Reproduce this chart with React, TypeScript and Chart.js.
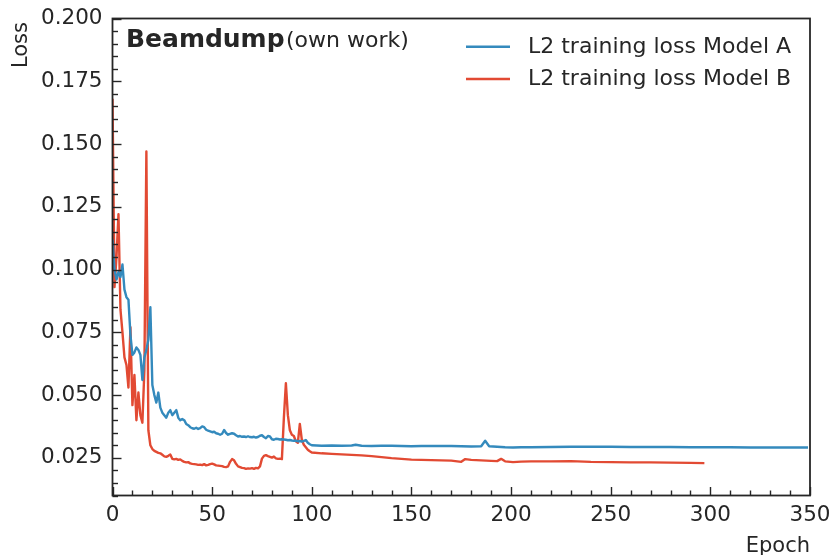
import { useEffect, useRef } from 'react';
import { Chart, registerables } from 'chart.js';

Chart.register(...registerables);

// Loss per epoch for epochs 0..100 (index = epoch)
const lossAEarly = [
  0.112, 0.1, 0.096, 0.099, 0.097, 0.102, 0.092, 0.089, 0.088, 0.074,
  0.066, 0.067, 0.069, 0.068, 0.066, 0.056, 0.065, 0.068, 0.072, 0.085,
  0.054, 0.05, 0.047, 0.051, 0.045, 0.043, 0.042, 0.041, 0.043, 0.044,
  0.042, 0.043, 0.044, 0.041, 0.04, 0.0405, 0.04, 0.0385, 0.038, 0.0372,
  0.0368, 0.0366, 0.037, 0.0365, 0.0368, 0.0375, 0.0372, 0.0362, 0.0358, 0.0355,
  0.0352, 0.0354, 0.0348, 0.0346, 0.0342, 0.0346, 0.0361, 0.0349, 0.0342, 0.0345,
  0.0348, 0.0346, 0.034, 0.0335, 0.0337, 0.0334, 0.0335, 0.0333, 0.0336, 0.0333,
  0.0332, 0.0334, 0.0331, 0.0333, 0.0338, 0.034, 0.0333, 0.0328, 0.0337, 0.0335,
  0.0324, 0.0322, 0.0326, 0.0325, 0.0323, 0.0324, 0.0323, 0.0322, 0.032, 0.0321,
  0.0319, 0.0318, 0.0319, 0.0316, 0.0317, 0.0315, 0.0318, 0.0321, 0.031, 0.0304,
  0.03,
];
const epochsALate = [
  105, 110, 115, 120, 122, 125, 130, 135, 140, 145, 150, 155, 160, 165, 170, 175, 180, 185,
  187, 189, 193, 197, 201, 205, 210, 220, 230, 240, 250, 260, 270, 280, 290, 300, 310, 320,
  330, 340, 349,
];
const lossALate = [
  0.0298, 0.0299, 0.0298, 0.0299, 0.0302, 0.0298, 0.0297, 0.0298, 0.0298, 0.0297, 0.0296,
  0.0297, 0.0297, 0.0297, 0.0297, 0.0296, 0.0295, 0.0296, 0.0318, 0.0296, 0.0294, 0.0292,
  0.0291, 0.0292, 0.0292, 0.0293, 0.0294, 0.0294, 0.0294, 0.0293, 0.0293, 0.0293, 0.0292,
  0.0292, 0.0292, 0.0291, 0.0291, 0.0291, 0.0291,
];

const lossBEarly = [
  0.168, 0.093, 0.105, 0.122, 0.084, 0.075, 0.065, 0.062, 0.053, 0.077,
  0.046, 0.058, 0.04, 0.051, 0.042, 0.039, 0.06, 0.147, 0.036, 0.03,
  0.0285, 0.0278, 0.0274, 0.027, 0.0268, 0.0262, 0.0256, 0.0254, 0.0258, 0.0263,
  0.0246, 0.0244, 0.0246, 0.0242, 0.0244, 0.0238, 0.0234, 0.0232, 0.0233, 0.0228,
  0.0226, 0.0225, 0.0224, 0.0222, 0.0223, 0.0221, 0.0225, 0.022, 0.0222, 0.0225,
  0.0227, 0.0224, 0.022, 0.0219, 0.0218, 0.0217, 0.0214, 0.0213, 0.0216, 0.0234,
  0.0245, 0.024, 0.0226, 0.0216, 0.0213, 0.021, 0.0209, 0.0206, 0.0208, 0.0207,
  0.0209, 0.0206, 0.021, 0.0208, 0.0216, 0.0247, 0.0258, 0.0261, 0.0257, 0.0254,
  0.0251, 0.0255, 0.0248, 0.0246, 0.0247, 0.0245, 0.041, 0.0547, 0.042, 0.036,
  0.0342, 0.0337, 0.0316, 0.031, 0.0385, 0.0322, 0.0302, 0.0292, 0.0282, 0.0276,
  0.0271,
];
const epochsBLate = [
  105, 110, 115, 120, 125, 130, 135, 140, 145, 150, 155, 160, 165, 170, 175, 177, 180, 185,
  190, 193, 195, 197, 201, 205, 210, 220, 230, 240, 250, 260, 270, 280, 290, 297,
];
const lossBLate = [
  0.0268, 0.0266, 0.0264, 0.0262, 0.026, 0.0257, 0.0253, 0.0249, 0.0246, 0.0243, 0.0242,
  0.0241, 0.024, 0.0239, 0.0234, 0.0245, 0.0242, 0.024, 0.0238, 0.0237, 0.0246, 0.0236,
  0.0233, 0.0235, 0.0236, 0.0236, 0.0237, 0.0234, 0.0233, 0.0232, 0.0232, 0.0231, 0.023,
  0.0229,
];

const seriesLabels = ['L2 training loss Model A', 'L2 training loss Model B'];
const yTickValues = [0.025, 0.05, 0.075, 0.1, 0.125, 0.15, 0.175, 0.2];
const xTickValues = [0, 50, 100, 150, 200, 250, 300, 350];

const INK = '#262626';
const BLUE = '#348ABD';
const RED = '#E24A33';
const FONT = "'DejaVu Sans', sans-serif";

const toPoints = (early: number[], lateX: number[], lateY: number[]) => [
  ...early.map((v, i) => ({ x: i, y: v })),
  ...lateX.map((x, i) => ({ x, y: lateY[i] })),
];

const decorPlugin = {
  id: 'decor',
  afterDatasetsDraw(chart: any) {
    const { ctx, chartArea, scales } = chart;
    const { left, right, top, bottom } = chartArea;
    const x = scales.x;
    const y = scales.y;
    ctx.save();
    ctx.strokeStyle = INK;
    ctx.lineCap = 'butt';

    // inward tick marks on the left and bottom spines
    ctx.lineWidth = 1.4;
    for (let k = 0; k <= 38; k++) {
      const v = 0.01 + k * 0.005;
      if (v > 0.2001) break;
      const py = Math.round(y.getPixelForValue(v)) + 0.5;
      const major = yTickValues.some((t) => Math.abs(t - v) < 1e-6);
      ctx.beginPath();
      ctx.moveTo(left, py);
      ctx.lineTo(left + (major ? 9 : 5.5), py);
      ctx.stroke();
    }
    for (let v = 0; v <= 350; v += 10) {
      const px = Math.round(x.getPixelForValue(v)) + 0.5;
      const major = xTickValues.includes(v);
      ctx.beginPath();
      ctx.moveTo(px, bottom);
      ctx.lineTo(px, bottom - (major ? 8.5 : 5));
      ctx.stroke();
    }

    // frame
    ctx.lineWidth = 1.8;
    ctx.strokeRect(left, top, right - left, bottom - top);

    // axis titles
    ctx.fillStyle = INK;
    ctx.font = `21px ${FONT}`;
    ctx.textAlign = 'right';
    ctx.textBaseline = 'alphabetic';
    ctx.fillText('Epoch', right, 551.5);
    ctx.save();
    ctx.translate(26.5, top + 3.5);
    ctx.rotate(-Math.PI / 2);
    ctx.fillText('Loss', 0, 0);
    ctx.restore();

    // header text
    ctx.textAlign = 'left';
    ctx.font = `bold 25px ${FONT}`;
    ctx.fillText('Beamdump', 126, 46.5);
    ctx.font = `22px ${FONT}`;
    ctx.fillText('(own work)', 286, 46.5);

    // legend
    const rows = [46.7, 79];
    chart.data.datasets.forEach((ds: any, i: number) => {
      const ly = rows[i];
      ctx.strokeStyle = ds.borderColor;
      ctx.lineWidth = 2.4;
      ctx.beginPath();
      ctx.moveTo(466, ly);
      ctx.lineTo(510, ly);
      ctx.stroke();
      ctx.fillStyle = INK;
      ctx.textBaseline = 'middle';
      ctx.fillText(ds.label, 528, ly + 0.5);
    });
    ctx.restore();
  },
};

export default function App() {
  const ref = useRef<HTMLCanvasElement>(null);

  useEffect(() => {
    if (!ref.current) return;
    Chart.defaults.font.family = FONT;
    Chart.defaults.color = INK;
    const chart = new Chart(ref.current, {
      type: 'line',
      data: {
        datasets: [
          {
            label: seriesLabels[0],
            data: toPoints(lossAEarly, epochsALate, lossALate),
            borderColor: BLUE,
            backgroundColor: BLUE,
            borderWidth: 2.4,
            pointRadius: 0,
            borderJoinStyle: 'round',
            tension: 0,
          },
          {
            label: seriesLabels[1],
            data: toPoints(lossBEarly, epochsBLate, lossBLate),
            borderColor: RED,
            backgroundColor: RED,
            borderWidth: 2.4,
            pointRadius: 0,
            borderJoinStyle: 'round',
            tension: 0,
          },
        ],
      },
      options: {
        responsive: false,
        animation: false,
        layout: { padding: { top: 18.5, right: 21, left: 0, bottom: 0 } },
        plugins: {
          legend: { display: false },
          tooltip: { enabled: false },
        },
        scales: {
          x: {
            type: 'linear',
            min: 0,
            max: 350,
            grid: { display: false, drawTicks: false },
            border: { display: false },
            afterBuildTicks: (scale: any) => {
              scale.ticks = xTickValues.map((v) => ({ value: v }));
            },
            afterFit: (scale: any) => {
              scale.height = 59.5;
              scale.paddingLeft = 0;
              scale.paddingRight = 0;
            },
            ticks: {
              padding: 7,
              maxRotation: 0,
              autoSkip: false,
              color: INK,
              font: { size: 21.5, family: FONT },
              callback: (v: any) => String(v),
            },
          },
          y: {
            type: 'linear',
            min: 0.01,
            max: 0.2,
            grid: { display: false, drawTicks: false },
            border: { display: false },
            afterBuildTicks: (scale: any) => {
              scale.ticks = yTickValues.map((v) => ({ value: v }));
            },
            afterFit: (scale: any) => {
              scale.width = 112.5;
              scale.paddingTop = 0;
              scale.paddingBottom = 0;
            },
            ticks: {
              padding: 10,
              autoSkip: false,
              color: INK,
              font: { size: 21.5, family: FONT },
              callback: (v: any) => Number(v).toFixed(3),
            },
          },
        },
      },
      plugins: [decorPlugin],
    });
    return () => chart.destroy();
  }, []);

  return (
    <div style={{ position: 'fixed', left: 0, top: 0, width: 831, height: 555, background: '#fff' }}>
      <canvas ref={ref} width={831} height={555} style={{ display: 'block' }} />
    </div>
  );
}
